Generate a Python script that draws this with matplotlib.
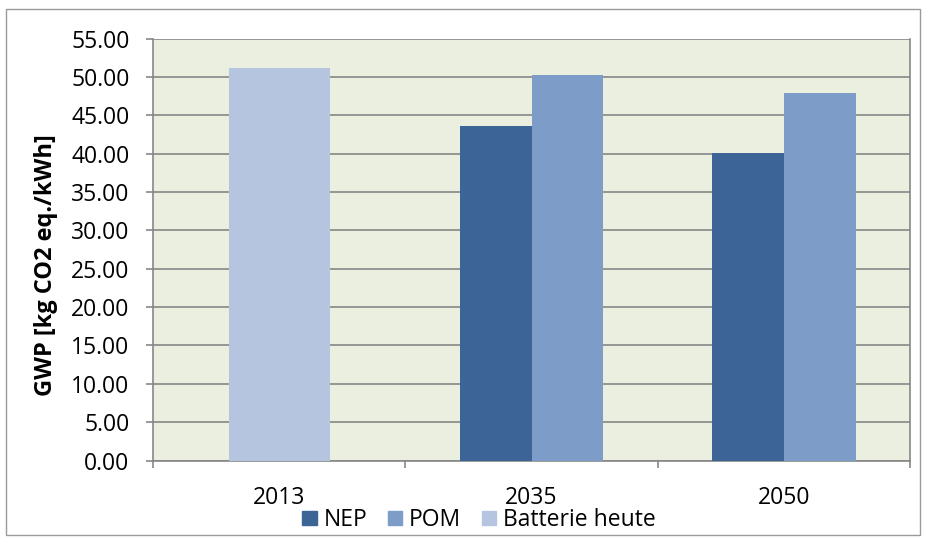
import matplotlib.pyplot as plt
from matplotlib.patches import Patch, Rectangle

# Daten
years = ['2013', '2035', '2050']
nep = [None, 43.6, 40.1]
pom = [None, 50.2, 47.9]
batterie = [51.1, None, None]
y_ticks = [0, 5, 10, 15, 20, 25, 30, 35, 40, 45, 50, 55]

c_nep = '#3C6496'
c_pom = '#7E9CC8'
c_bat = '#B5C4DF'
grid_c = '#878787'

plt.rcParams['font.family'] = ['Open Sans', 'DejaVu Sans']
fs = 16.5

fig = plt.figure(figsize=(9.27, 5.39), dpi=100)
ax = fig.add_axes([153 / 927, 1 - 460.5 / 539, 757 / 927, 422 / 539])
ax.set_facecolor('#EBEFDF')

w2 = 0.285
w1 = 0.40
for i in range(len(years)):
    if batterie[i] is not None:
        ax.bar(i, batterie[i], width=w1, color=c_bat, zorder=3)
    if nep[i] is not None:
        ax.bar(i - w2 / 2, nep[i], width=w2, color=c_nep, zorder=3)
    if pom[i] is not None:
        ax.bar(i + w2 / 2, pom[i], width=w2, color=c_pom, zorder=3)

ax.set_xlim(-0.5, len(years) - 0.5)
ax.set_ylim(0, 55)
ax.set_yticks(y_ticks)
ax.set_yticklabels([f'{v:.2f}' for v in y_ticks], fontsize=fs)
ax.yaxis.grid(True, color=grid_c, linewidth=1.2, zorder=1)
ax.set_axisbelow(True)

ax.set_xticks(range(len(years)))
ax.set_xticklabels(years, fontsize=fs)
ax.tick_params(axis='x', length=0, pad=18)
ax.set_xticks([-0.5, 0.5, 1.5, 2.5], minor=True)
ax.tick_params(axis='x', which='minor', length=5, color=grid_c, width=1.2)
ax.tick_params(axis='y', length=5, color=grid_c, width=1.2, pad=12)

for s in ['left', 'right', 'bottom']:
    ax.spines[s].set_color(grid_c)
    ax.spines[s].set_linewidth(1.2)
ax.spines['top'].set_visible(False)

ax.set_ylabel('GWP [kg CO2 eq./kWh]', fontsize=17, fontweight='bold')
ax.yaxis.set_label_coords(-0.126, 0.463)

handles = [Patch(color=c_nep, label='NEP'),
           Patch(color=c_pom, label='POM'),
           Patch(color=c_bat, label='Batterie heute')]
fig.legend(handles=handles, loc='center', bbox_to_anchor=(479 / 927, 1 - 520 / 539),
           ncol=3, frameon=False, fontsize=fs, handlelength=0.62, handleheight=0.62,
           handletextpad=0.3, columnspacing=0.9, borderpad=0)

fig.patches.append(Rectangle((6 / 927, 4 / 539), 914 / 927, 526 / 539, transform=fig.transFigure,
                             fill=False, edgecolor='#9A9A9A', linewidth=1))

fig.savefig('out.png', dpi=100)
